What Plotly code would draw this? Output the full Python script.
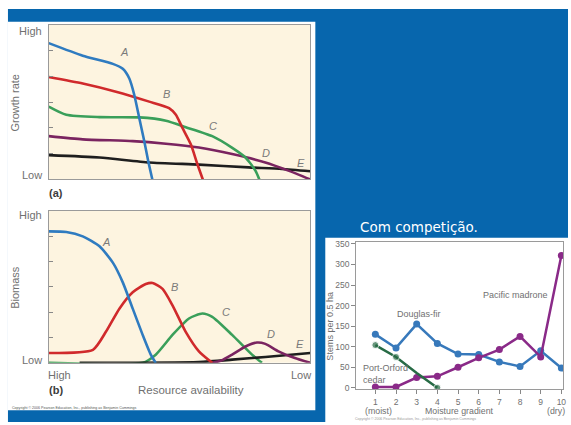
import plotly.graph_objects as go

W, H = 571, 425

# ---------------- data ----------------
# Panel (a): growth rate vs resource availability (0 = high, 1 = low; y 0 = low, 1 = high)
a_A_x = [0, .130, .245, .283, .308, .327, .346, .365, .380, .396]
a_A_y = [.881, .800, .747, .715, .652, .546, .397, .248, .121, 0]
a_B_x = [0, .130, .257, .384, .460, .486, .511, .543, .568, .589]
a_B_y = [.662, .620, .567, .503, .461, .418, .333, .227, .100, 0]
a_C_x = [0, .067, .194, .346, .448, .524, .625, .700, .752, .790, .805]
a_C_y = [.471, .418, .403, .401, .380, .338, .280, .206, .142, .057, 0]
a_D_x = [0, .130, .321, .448, .574, .701, .828, .916, 1]
a_D_y = [.280, .259, .248, .231, .206, .164, .110, .057, 0]
a_E_x = [0, .194, .384, .574, .764, .891, 1]
a_E_y = [.157, .142, .110, .096, .078, .068, .053]

# Panel (b): biomass vs resource availability
b_A_x = [0, .067, .130, .194, .245, .283, .321, .359, .390, .409]
b_A_y = [.866, .862, .833, .768, .660, .530, .357, .184, .054, 0]
b_B_x = [0, .169, .219, .270, .321, .371, .397, .435, .473, .523, .574, .625]
b_B_y = [.065, .086, .206, .357, .465, .519, .526, .487, .379, .206, .076, 0]
b_C_x = [0, .359, .409, .473, .536, .587, .625, .701, .777, .815]
b_C_y = [0, 0, .054, .184, .292, .325, .303, .184, .054, 0]
b_D_x = [.625, .660, .701, .752, .796, .828, .878, .941, 1]
b_D_y = [0, .015, .054, .108, .134, .125, .076, .032, 0]
b_E_x = [.118, .574, .701, .828, 1]
b_E_y = [0, .005, .021, .039, .065]

curve_labels = ["A", "B", "C", "D", "E"]

# Right chart: stems per 0.5 ha along moisture gradient
moisture = [1, 2, 3, 4, 5, 6, 7, 8, 9, 10]
douglas_fir = [130, 97, 155, 108, 82, 81, 63, 52, 90, 48]
pacific_madrone = [2, 2, 25, 28, 50, 73, 93, 125, 75, 322]
cedar_x = [1, 2, 3, 4]
port_orford_cedar = [104, 75, 36, 0]
y_ticks = [0, 50, 100, 150, 200, 250, 300, 350]

# ---------------- helpers (layout only) ----------------
def px(x):
    return x / W

def py(y):
    return 1 - y / H

GRAY = "#707070"
FONT = "Liberation Sans, Arial, sans-serif"
BEIGE = "#fdf4e0"
BLUE_BG = "#0766ad"

colA, colB, colC, colD, colE = "#2f7bc0", "#d02a2c", "#3a9f5a", "#7a2460", "#1e1e1e"

fig = go.Figure()

def add_line(x, y, color, xa, ya, width=2.6, shape="spline"):
    fig.add_trace(go.Scatter(x=x, y=y, mode="lines", xaxis=xa, yaxis=ya,
                             line=dict(color=color, width=width, shape=shape, smoothing=0.6),
                             hoverinfo="skip", showlegend=False))

# panel (a)
add_line(a_E_x, a_E_y, colE, "x", "y")
add_line(a_D_x, a_D_y, colD, "x", "y")
add_line(a_C_x, a_C_y, colC, "x", "y")
add_line(a_B_x, a_B_y, colB, "x", "y")
add_line(a_A_x, a_A_y, colA, "x", "y")
# panel (b)
add_line(b_C_x, b_C_y, colC, "x2", "y2")
add_line(b_E_x, b_E_y, colE, "x2", "y2")
add_line(b_D_x, b_D_y, colD, "x2", "y2")
add_line(b_B_x, b_B_y, colB, "x2", "y2")
add_line(b_A_x, b_A_y, colA, "x2", "y2")

# right chart
fig.add_trace(go.Scatter(x=moisture, y=douglas_fir, mode="lines+markers", xaxis="x3", yaxis="y3",
                         line=dict(color="#3779bb", width=2.5), marker=dict(size=7, color="#3779bb"),
                         showlegend=False, name="Douglas-fir"))
fig.add_trace(go.Scatter(x=moisture, y=pacific_madrone, mode="lines+markers", xaxis="x3", yaxis="y3",
                         line=dict(color="#8a2a88", width=2.5), marker=dict(size=7, color="#8a2a88"),
                         showlegend=False, name="Pacific madrone"))
fig.add_trace(go.Scatter(x=cedar_x, y=port_orford_cedar, mode="lines+markers", xaxis="x3", yaxis="y3",
                         line=dict(color="#276b45", width=2.5),
                         marker=dict(size=[7, 7, 0, 7], color="#276b45"),
                         showlegend=False, name="Port-Orford cedar"))

# ---------------- axes ----------------
six = [i / 6 for i in range(1, 6)]
frame = dict(showline=True, mirror=True, linecolor="#9a9a9a", linewidth=1, showgrid=False, zeroline=False)

fig.update_layout(
    xaxis=dict(domain=[px(49), px(312)], range=[0, 1], showticklabels=False, ticks="", anchor="y", **frame),
    yaxis=dict(domain=[py(179), py(22)], range=[0, 1], tickvals=six, ticks="inside", ticklen=4,
               tickcolor="#888", showticklabels=False, anchor="x", **frame),
    xaxis2=dict(domain=[px(49), px(312)], range=[0, 1], showticklabels=False, ticks="", anchor="y2", **frame),
    yaxis2=dict(domain=[py(365), py(211)], range=[0, 1], tickvals=six, ticks="inside", ticklen=4,
                tickcolor="#888", showticklabels=False, anchor="x2", **frame),
    xaxis3=dict(domain=[px(358), px(566)], range=[0.07, 10.08], tickvals=moisture, ticks="outside",
                ticklen=4, tickcolor="#888", anchor="y3", ticklabelstandoff=0,
                tickfont=dict(family=FONT, size=8.5, color=GRAY), **frame),
    yaxis3=dict(domain=[py(392), py(242)], range=[-4, 355.6], tickvals=y_ticks, ticks="outside",
                ticklen=4, tickcolor="#888", anchor="x3",
                tickfont=dict(family=FONT, size=8.5, color=GRAY), **frame),
)

# ---------------- background shapes ----------------
shapes = [
    dict(type="rect", xref="paper", yref="paper", x0=px(8), x1=1, y0=0, y1=py(6),
         fillcolor=BLUE_BG, line=dict(width=0), layer="below"),
    dict(type="rect", xref="paper", yref="paper", x0=px(8), x1=px(317), y0=py(413), y1=py(19),
         fillcolor="white", line=dict(width=0), layer="below"),
    dict(type="rect", xref="paper", yref="paper", x0=px(327), x1=1, y0=0, y1=py(238),
         fillcolor="white", line=dict(width=0), layer="below"),
    dict(type="rect", xref="x domain", yref="y domain", x0=0, x1=1, y0=0, y1=1,
         fillcolor=BEIGE, line=dict(width=0), layer="below"),
    dict(type="rect", xref="x2 domain", yref="y2 domain", x0=0, x1=1, y0=0, y1=1,
         fillcolor=BEIGE, line=dict(width=0), layer="below"),
]

# ---------------- annotations ----------------
ann = []

def text(x, y, s, size=11, color=GRAY, xanchor="center", yanchor="middle", angle=0, ref=("paper", "paper"), **kw):
    ann.append(dict(x=x, y=y, xref=ref[0], yref=ref[1], text=s, showarrow=False,
                    xanchor=xanchor, yanchor=yanchor, textangle=angle,
                    font=dict(family=kw.pop("family", FONT), size=size, color=color), **kw))

# panel (a)
text(px(44), py(28), "High", xanchor="right")
text(px(44), py(174), "Low", xanchor="right")
text(px(15), py(101), "Growth rate", angle=-90)
text(px(56), py(193), "<b>(a)</b>", color="#3c3c3c")
a_lab_pos = [(.289, .822), (.449, .554), (.627, .344), (.829, .172), (.966, .108)]
for lab, (lx, ly) in zip(curve_labels, a_lab_pos):
    text(lx, ly, "<i>%s</i>" % lab, ref=("x", "y"), color="#7a7a7a")

# panel (b)
text(px(44), py(215), "High", xanchor="right")
text(px(44), py(362), "Low", xanchor="right")
text(px(15), py(288), "Biomass", angle=-90)
text(px(60), py(377), "High")
text(px(303), py(377), "Low")
text(px(56), py(393), "<b>(b)</b>", color="#3c3c3c")
text(px(192), py(393), "Resource availability", size=11.5)
text(px(10), py(411), "Copyright © 2006 Pearson Education, Inc., publishing as Benjamin Cummings",
     size=3.6, color="#555", xanchor="left")
b_lab_pos = [(.217, .799), (.479, .500), (.677, .338), (.848, .188), (.962, .123)]
for lab, (lx, ly) in zip(curve_labels, b_lab_pos):
    text(lx, ly, "<i>%s</i>" % lab, ref=("x2", "y2"), color="#7a7a7a")

# right chart
text(px(421), py(227), "Com competição.", size=13.5, color="white", family="DejaVu Sans, Verdana, sans-serif")
text(3.13, 179, "Douglas-fir", size=9, ref=("x3", "y3"))
text(7.8, 226, "Pacific madrone", size=9, ref=("x3", "y3"))
text(0.3, 34, "Port-Orford<br>cedar", size=9, ref=("x3", "y3"), xanchor="left", align="left")
text(px(332), py(328), "Stems per 0.5 ha", size=9, angle=-90)
text(px(380), py(407), "(moist)", size=8.8, yanchor="top")
text(px(462), py(407), "Moisture gradient", size=8.8, yanchor="top")
text(px(570), py(407), "(dry)", size=8.8, xanchor="right", yanchor="top")
text(px(355), py(422), "Copyright © 2006 Pearson Education, Inc., publishing as Benjamin Cummings",
     size=3.5, color="#9a9a9a", xanchor="left")

fig.update_layout(
    width=W, height=H, margin=dict(l=0, r=0, t=0, b=0),
    paper_bgcolor="white", plot_bgcolor="rgba(0,0,0,0)",
    shapes=shapes, annotations=ann, showlegend=False, hovermode=False,
)

fig.write_html("out.html", config=dict(displayModeBar=False),
               post_script="document.body.style.margin='0';document.body.style.padding='0';")
